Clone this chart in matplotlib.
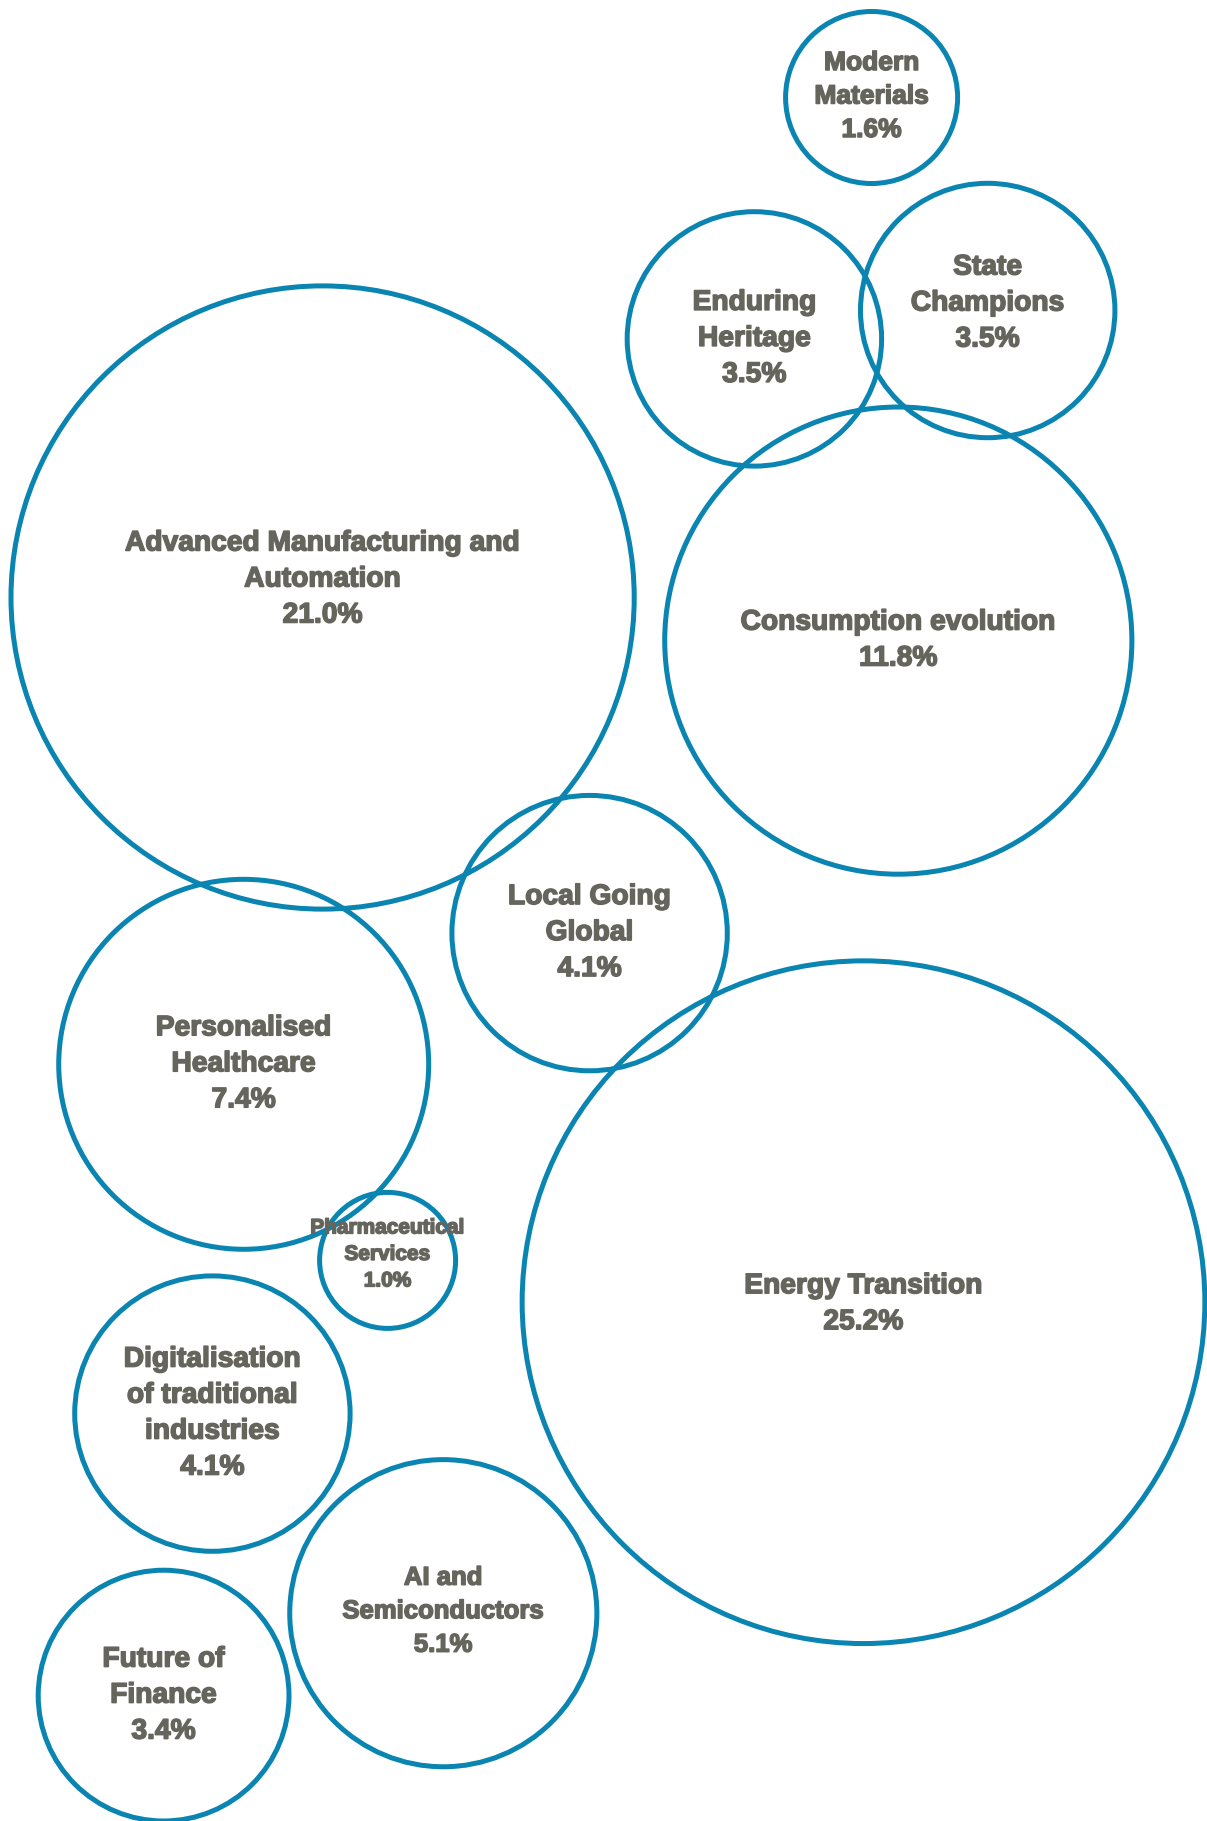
import numpy as np
import matplotlib
matplotlib.use("Agg")
import matplotlib.pyplot as plt
from matplotlib.patches import Circle
import matplotlib.patheffects as pe

# themes and their weights (%)
themes = ["Modern\nMaterials", "Enduring\nHeritage", "State\nChampions",
          "Consumption evolution", "Advanced Manufacturing and\nAutomation",
          "Local Going\nGlobal", "Personalised\nHealthcare",
          "Pharmaceutical\nServices", "Energy Transition",
          "Digitalisation\nof traditional\nindustries", "AI and\nSemiconductors",
          "Future of\nFinance"]
weights = [1.6, 3.5, 3.5, 11.8, 21.0, 4.1, 7.4, 1.0, 25.2, 4.1, 5.1, 3.4]

# packed bubble layout (pixel space)
cx = [871.6, 754.4, 987.7, 898.3, 322.6, 589.6, 243.7, 387.6, 863.5, 212.4, 443.3, 163.6]
cy = [97.5, 338.9, 310.5, 640.6, 597.5, 933.1, 1064.3, 1260.4, 1302.2, 1413.6, 1613.2, 1695.6]
label_dy = [-1, 0, -7, 0, -18, 0, 0, -6, 2, 0, -2, 0]
font_sizes = [19, 20.3, 20.3, 20.3, 20.3, 20.3, 20.3, 15, 20.3, 20.3, 18.5, 20.3]

scale = 68.0  # radius per sqrt(weight)
ring = '#0a84b1'
txt = '#65655d'

fig = plt.figure(figsize=(12.07, 18.21), dpi=100)
ax = fig.add_axes([0, 0, 1, 1])
ax.set_xlim(0, 1207)
ax.set_ylim(1821, 0)
ax.set_aspect('equal')
ax.axis('off')

for i in range(len(themes)):
    r = scale * np.sqrt(weights[i])
    ax.add_patch(Circle((cx[i], cy[i]), r, fill=False, ec=ring, lw=3.6, clip_on=False))
    t = ax.text(cx[i], cy[i] + label_dy[i], themes[i] + "\n" + "%.1f%%" % weights[i],
                ha='center', va='center', multialignment='center',
                fontsize=font_sizes[i], fontweight='bold', color=txt,
                family=['Liberation Sans', 'DejaVu Sans'], linespacing=1.5)
    # heavier look, like the original's black weight
    t.set_path_effects([pe.withStroke(linewidth=1.1, foreground=txt)])

fig.savefig('out.png', dpi=100, facecolor='white')
